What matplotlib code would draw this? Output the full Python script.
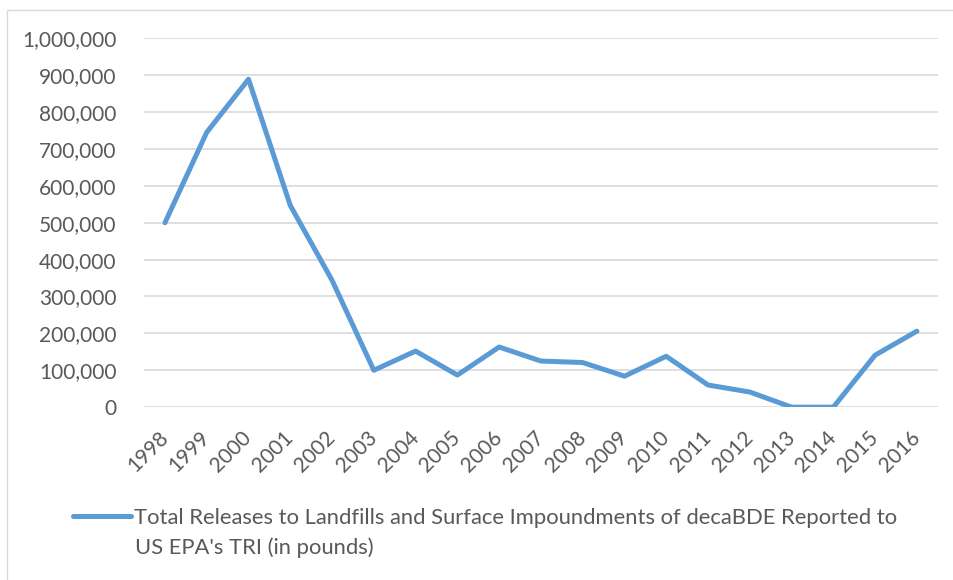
import matplotlib.pyplot as plt
import matplotlib.patches as mpatches
from matplotlib.ticker import FuncFormatter

# Dati (libbre)
anni = ["1998", "1999", "2000", "2001", "2002", "2003", "2004", "2005", "2006", "2007",
        "2008", "2009", "2010", "2011", "2012", "2013", "2014", "2015", "2016"]
rilasci = [500000, 745000, 889000, 547000, 344000, 100000, 152000, 87000, 163000, 125000,
           121000, 84000, 138000, 60000, 41000, 0, 0, 141000, 206000]
etichetta_1 = "Total Releases to Landfills and Surface Impoundments of decaBDE Reported to"
etichetta_2 = "US EPA's TRI (in pounds)"

plt.rcParams['font.family'] = ['Lato', 'DejaVu Sans']
grigio = '#595959'

fig = plt.figure(figsize=(9.54, 5.8), dpi=100)
ax = fig.add_axes([0.151, 0.298, 0.832, 0.636])

# bordo esterno dell'area del grafico
fig.patches.append(mpatches.Rectangle((7 / 954, -0.01), 1.02, 1 - 10 / 580 + 0.01,
                                      transform=fig.transFigure, fill=False,
                                      edgecolor='#d9d9d9', linewidth=1))

x = list(range(len(anni)))
linea, = ax.plot(x, rilasci, color='#5B9BD5', linewidth=3.6, solid_capstyle='round',
                 solid_joinstyle='round', zorder=3)

ax.set_xlim(-0.5, len(anni) - 0.5)
ax.set_ylim(0, 1000000)
ax.set_yticks(range(0, 1000001, 100000))
ax.yaxis.set_major_formatter(FuncFormatter(lambda v, p: f"{int(v):,}"))
ax.set_xticks(x)
ax.set_xticklabels(anni, rotation=45, ha='right', va='center', rotation_mode='anchor')

ax.grid(axis='y', color='#d9d9d9', linewidth=1.2)
ax.set_axisbelow(True)
for s in ax.spines.values():
    s.set_visible(False)
ax.tick_params(axis='both', length=0, colors=grigio, labelsize=15)
ax.tick_params(axis='y', pad=20)
ax.tick_params(axis='x', pad=20)

# legenda: il simbolo resta allineato alla prima riga, come in Excel
fig.legend([linea], [etichetta_1], loc='center left', bbox_to_anchor=(0.077, 1 - 518 / 580),
           frameon=False, fontsize=15.8, labelcolor=grigio, handlelength=2.6,
           handletextpad=0.15, borderaxespad=0, borderpad=0)
fig.text(135 / 954, 1 - 548 / 580, etichetta_2, fontsize=15.8, color=grigio,
         ha='left', va='center')

fig.savefig('out.png', dpi=100)
plt.close(fig)
